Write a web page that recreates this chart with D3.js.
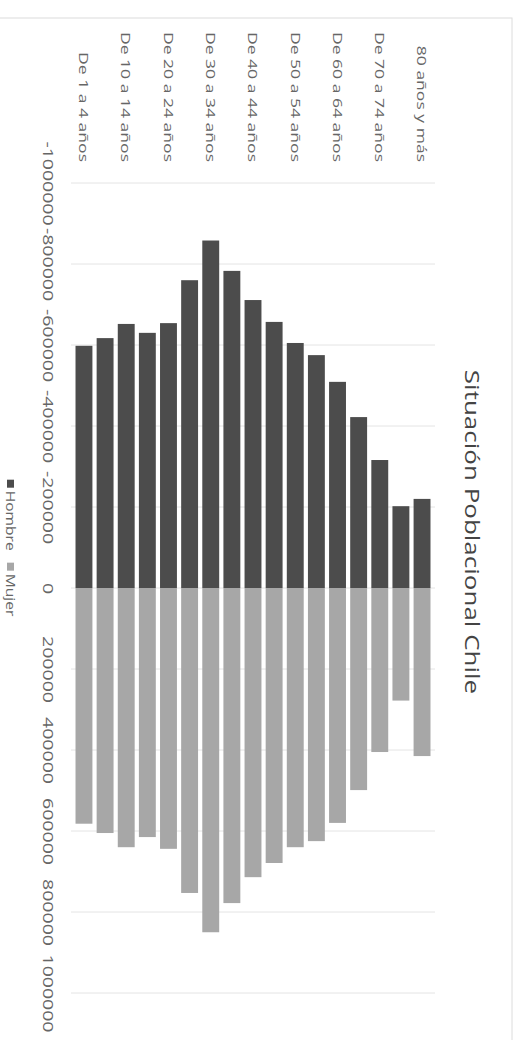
<!DOCTYPE html>
<html>
<head>
<meta charset="utf-8">
<script src="https://cdn.jsdelivr.net/npm/d3@7"></script>
<style>
  html, body { margin: 0; padding: 0; background: #fff; }
  svg { display: block; }
  text { font-family: "Open Sans", "Noto Sans", sans-serif; }
</style>
</head>
<body>
<svg id="chart" width="522" height="1040"></svg>
<script>
// ---- data (bottom of pyramid first) ----
const categories = ["De 1 a 4 años","De 5 a 9 años","De 10 a 14 años","De 15 a 19 años","De 20 a 24 años",
  "De 25 a 29 años","De 30 a 34 años","De 35 a 39 años","De 40 a 44 años","De 45 a 49 años",
  "De 50 a 54 años","De 55 a 59 años","De 60 a 64 años","De 65 a 69 años","De 70 a 74 años",
  "De 75 a 79 años","80 años y más"];
const hombre = [598000, 617000, 652000, 630000, 654000, 760000, 858000, 783000, 711000, 657000,
  605000, 575000, 509000, 422000, 316000, 202000, 220000];
const mujer = [582000, 605000, 640000, 615000, 644000, 753000, 850000, 778000, 714000, 679000,
  640000, 625000, 580000, 499000, 405000, 278000, 415000];
const tickValues = [-1000000, -800000, -600000, -400000, -200000, 0, 200000, 400000, 600000, 800000, 1000000];
const seriesNames = ["Hombre", "Mujer"];
const title = "Situación Poblacional Chile";

// ---- layout (chart is drawn in an unrotated frame, then turned 90° clockwise) ----
const H = 522, SX = 1.3;
const colors = {Hombre: "#4c4c4c", Mujer: "#a7a7a7"};

const svg = d3.select("#chart");
const g = svg.append("g").attr("transform", `translate(${H},0) rotate(90)`);

g.append("rect").attr("x", 18).attr("y", 10).attr("width", 1060).attr("height", 520)
  .attr("fill", "none").attr("stroke", "#dcdcdc").attr("stroke-width", 1);

const x = d3.scaleLinear().domain([-1000000, 1000000]).range([183, 993]);
const y = d3.scaleBand().domain(categories.slice().reverse()).range([89.4, 448.6]).paddingInner(0.2).paddingOuter(0.1);

// gridlines
g.append("g").selectAll("line").data(tickValues).join("line")
  .attr("x1", d => x(d)).attr("x2", d => x(d))
  .attr("y1", 87).attr("y2", 451)
  .attr("stroke", "#e4e4e4").attr("stroke-width", 1);

// bars
const rows = categories.map((c, i) => ({c, h: hombre[i], m: mujer[i]}));
g.append("g").selectAll("rect").data(rows).join("rect")
  .attr("x", d => x(-d.h)).attr("width", d => x(0) - x(-d.h))
  .attr("y", d => y(d.c)).attr("height", y.bandwidth())
  .attr("fill", colors.Hombre);
g.append("g").selectAll("rect").data(rows).join("rect")
  .attr("x", x(0)).attr("width", d => x(d.m) - x(0))
  .attr("y", d => y(d.c)).attr("height", y.bandwidth())
  .attr("fill", colors.Mujer);

// value axis labels
const xAxis = d3.axisBottom(x).tickValues(tickValues).tickSize(0).tickFormat(d => String(d));
const axG = g.append("g").attr("transform", "translate(0,479)").call(xAxis);
axG.select(".domain").remove();
axG.selectAll("text")
  .attr("y", 0).attr("dy", 0)
  .attr("transform", `scale(${SX},1)`)
  .attr("x", 0)
  .attr("text-anchor", "middle")
  .attr("fill", "#666").style("font-size", "15px").style("font-family", "'Open Sans', sans-serif");

// category labels (every other one, as in the original)
const yAxis = d3.axisLeft(y).tickSize(0).tickFormat(() => "");
const cG = g.append("g").attr("transform", "translate(162,0)").call(yAxis);
cG.select(".domain").remove();
cG.selectAll(".tick text")
  .text(d => (categories.indexOf(d) % 2 === 0 ? d : ""))
  .attr("x", 0).attr("dy", "0.35em")
  .attr("transform", `scale(${SX},1)`)
  .attr("text-anchor", "end")
  .attr("fill", "#666").style("font-size", "13.5px").style("font-family", "'Open Sans', sans-serif");

// title
g.append("text").text(title)
  .attr("transform", `translate(532,57) scale(${SX},1)`)
  .attr("text-anchor", "middle").attr("fill", "#444")
  .style("font-size", "20px");

// legend
const lg = g.append("g");
let cursor = 0;
seriesNames.forEach((name) => {
  const item = lg.append("g").attr("transform", `translate(${cursor},0)`);
  item.append("rect").attr("x", 0).attr("y", -4).attr("width", 8).attr("height", 7).attr("fill", colors[name]);
  const t = item.append("text").text(name).attr("transform", `translate(11,4) scale(${SX},1)`)
    .attr("fill", "#666").style("font-size", "12px");
  const w = t.node().getComputedTextLength() * SX;
  cursor += 11 + w + 12;
});
const totalW = cursor - 12;
lg.attr("transform", `translate(${548 - totalW / 2},512)`);
</script>
</body>
</html>
